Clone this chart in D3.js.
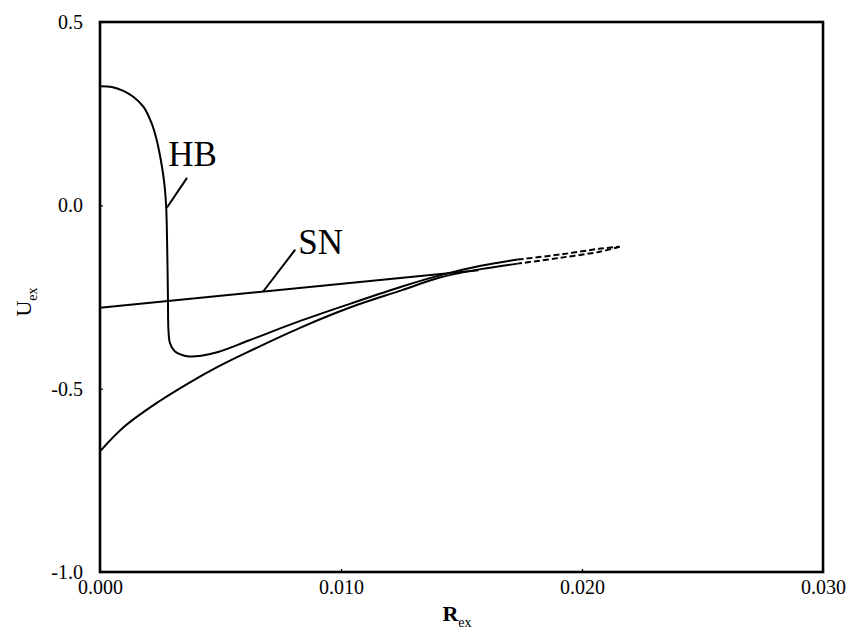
<!DOCTYPE html>
<html>
<head>
<meta charset="utf-8">
<script src="https://cdn.jsdelivr.net/npm/d3@7"></script>
<style>
  body { margin: 0; background: #fff; }
  svg { display: block; }
</style>
</head>
<body>
<svg id="chart" width="851" height="632"></svg>
<script>
const serif = "'Liberation Serif', 'Times New Roman', serif";

// axis ticks
const xTicks = [0, 0.010, 0.020, 0.030];
const yTicks = [0.5, 0.0, -0.5, -1.0];

// HB curve, solid part (R_ex, U_ex)
const hbR = [0, 0.00049, 0.00097, 0.00138, 0.0018, 0.00214, 0.00235, 0.00252, 0.00263,
             0.0027, 0.00275, 0.00279, 0.00282, 0.00284, 0.0029, 0.0031, 0.0034, 0.0037,
             0.0042, 0.0049, 0.0062, 0.0082, 0.0104, 0.0125, 0.0141, 0.0158, 0.01733];
const hbU = [0.325, 0.323, 0.312, 0.296, 0.269, 0.224, 0.179, 0.125, 0.080,
             0.040, -0.010, -0.121, -0.257, -0.340, -0.375, -0.398, -0.408, -0.412,
             -0.410, -0.400, -0.368, -0.318, -0.268, -0.222, -0.191, -0.165, -0.148];
// dashed continuation to the cusp
const hbDashR = [0.01733, 0.0191, 0.02078, 0.02156];
const hbDashU = [-0.148, -0.134, -0.118, -0.113];

// lower branch, from the cusp back to R_ex = 0
const lowDashR = [0.02156, 0.02078, 0.0191, 0.01733];
const lowDashU = [-0.113, -0.126, -0.143, -0.159];
const lowR = [0.01733, 0.0158, 0.0141, 0.0125, 0.0104, 0.0083, 0.0061, 0.0049, 0.0037,
              0.0024, 0.001, 0];
const lowU = [-0.159, -0.174, -0.197, -0.232, -0.278, -0.334, -0.401, -0.440, -0.484,
              -0.537, -0.604, -0.671];

// SN line
const snR = [0, 0.0157];
const snU = [-0.279, -0.177];

// labels with their pointer lines
const labels = [
  { text: "HB", r: 0.00283, u: 0.108, from: [0.00361, 0.075], to: [0.00278, -0.006] },
  { text: "SN", r: 0.00823, u: -0.132, from: [0.0081, -0.121], to: [0.00677, -0.235] }
];

const svg = d3.select("#chart");
const frame = { left: 100, right: 823, top: 22, bottom: 572 };

const x = d3.scaleLinear().domain([0, 0.030]).range([frame.left, frame.right]);
const y = d3.scaleLinear().domain([-1.0, 0.5]).range([frame.bottom, frame.top]);

const zip = (rs, us) => rs.map((r, i) => [r, us[i]]);
const line = d3.line()
    .x(d => x(d[0]))
    .y(d => y(d[1]))
    .curve(d3.curveCatmullRom.alpha(0.5));

// curves
const curves = svg.append("g")
    .attr("fill", "none")
    .attr("stroke", "#000")
    .attr("stroke-width", 2);

curves.append("path").attr("d", line(zip(hbR, hbU)));
curves.append("path").attr("d", line(zip(lowR, lowU)));
curves.append("path").attr("d", line(zip(snR, snU)));
curves.append("path").attr("d", line(zip(hbDashR, hbDashU))).attr("stroke-dasharray", "6,3");
curves.append("path").attr("d", line(zip(lowDashR, lowDashU))).attr("stroke-dasharray", "6,3");

// frame
svg.append("rect")
    .attr("x", frame.left).attr("y", frame.top)
    .attr("width", frame.right - frame.left).attr("height", frame.bottom - frame.top)
    .attr("fill", "none")
    .attr("stroke", "#000")
    .attr("stroke-width", 2.6);

// axes
const xAxis = svg.append("g")
    .attr("transform", "translate(0," + frame.bottom + ")")
    .call(d3.axisBottom(x).tickValues(xTicks).tickFormat(d => d.toFixed(3)).tickSize(-3).tickPadding(6));
const yAxis = svg.append("g")
    .attr("transform", "translate(" + frame.left + ",0)")
    .call(d3.axisLeft(y).tickValues(yTicks).tickFormat(d => d.toFixed(1)).tickSize(-3).tickPadding(17));

[xAxis, yAxis].forEach(a => {
    a.attr("font-family", serif).attr("font-size", 20);
    a.select(".domain").remove();
    a.selectAll("line").attr("stroke", "#000").attr("stroke-width", 1.2);
    a.selectAll("text").attr("fill", "#000");
});
xAxis.selectAll("text").attr("dy", "0.8em");

// axis titles
const xTitle = svg.append("text")
    .attr("x", 457).attr("y", 621)
    .attr("text-anchor", "middle")
    .attr("font-family", serif)
    .attr("fill", "#000");
xTitle.append("tspan").text("R").attr("font-size", 22).attr("font-weight", "bold");
xTitle.append("tspan").text("ex").attr("dy", 6).attr("font-size", 14);

const yTitle = svg.append("text")
    .attr("transform", "translate(31,302) rotate(-90)")
    .attr("text-anchor", "middle")
    .attr("font-family", serif)
    .attr("fill", "#000");
yTitle.append("tspan").text("U").attr("font-size", 22);
yTitle.append("tspan").text("ex").attr("dy", 6).attr("font-size", 14);

// labels
labels.forEach(l => {
    svg.append("line")
        .attr("x1", x(l.from[0])).attr("y1", y(l.from[1]))
        .attr("x2", x(l.to[0])).attr("y2", y(l.to[1]))
        .attr("stroke", "#000")
        .attr("stroke-width", 2);
    svg.append("text")
        .attr("x", x(l.r)).attr("y", y(l.u))
        .attr("font-family", serif)
        .attr("font-size", 35)
        .attr("fill", "#000")
        .text(l.text);
});
</script>
</body>
</html>
